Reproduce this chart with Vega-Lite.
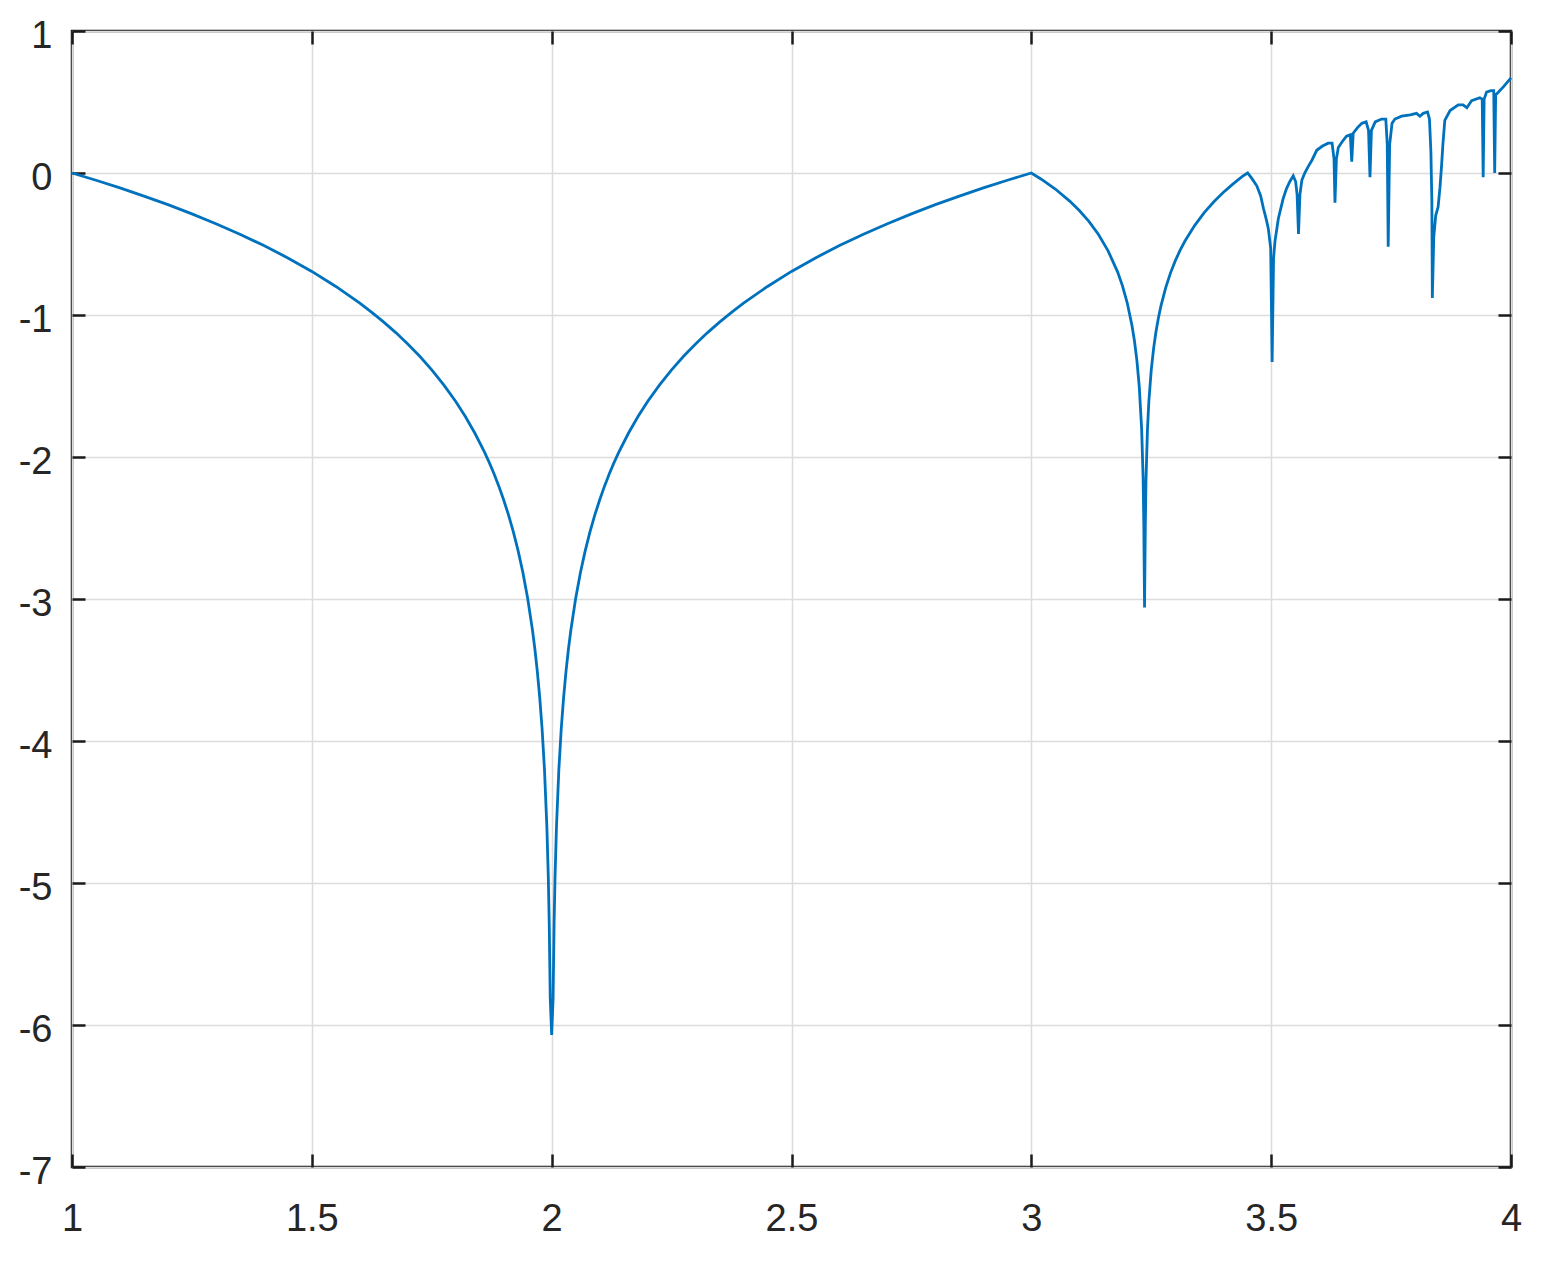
{
  "$schema": "https://vega.github.io/schema/vega-lite/v6.json",
  "width": 1439,
  "height": 1136,
  "autosize": {"type": "none"},
  "padding": {"left": 72, "top": 31, "right": 36, "bottom": 103},
  "background": "white",
  "config": {
    "view": {"stroke": "#1a1a1a", "strokeWidth": 2.5},
    "axis": {"labelFont": "Liberation Sans", "labelFontSize": 38, "labelColor": "#262626", "domain": false, "labelFlush": false, "labelOverlap": false, "tickColor": "#1a1a1a", "tickWidth": 2.5, "gridColor": "#dcdcdc", "gridWidth": 1.5, "title": null}
  },
  "data": {
    "values": [
      {"r": 1.0, "lyap": 0.0},
      {"r": 1.05, "lyap": -0.051},
      {"r": 1.1, "lyap": -0.105},
      {"r": 1.15, "lyap": -0.163},
      {"r": 1.2, "lyap": -0.223},
      {"r": 1.25, "lyap": -0.288},
      {"r": 1.3, "lyap": -0.357},
      {"r": 1.35, "lyap": -0.431},
      {"r": 1.4, "lyap": -0.511},
      {"r": 1.45, "lyap": -0.598},
      {"r": 1.5, "lyap": -0.693},
      {"r": 1.55, "lyap": -0.799},
      {"r": 1.6, "lyap": -0.916},
      {"r": 1.625, "lyap": -0.981},
      {"r": 1.65, "lyap": -1.05},
      {"r": 1.675, "lyap": -1.124},
      {"r": 1.7, "lyap": -1.204},
      {"r": 1.725, "lyap": -1.291},
      {"r": 1.75, "lyap": -1.386},
      {"r": 1.775, "lyap": -1.492},
      {"r": 1.8, "lyap": -1.609},
      {"r": 1.82, "lyap": -1.715},
      {"r": 1.84, "lyap": -1.833},
      {"r": 1.86, "lyap": -1.966},
      {"r": 1.87, "lyap": -2.04},
      {"r": 1.88, "lyap": -2.12},
      {"r": 1.89, "lyap": -2.207},
      {"r": 1.9, "lyap": -2.303},
      {"r": 1.91, "lyap": -2.408},
      {"r": 1.92, "lyap": -2.526},
      {"r": 1.93, "lyap": -2.659},
      {"r": 1.94, "lyap": -2.813},
      {"r": 1.95, "lyap": -2.996},
      {"r": 1.96, "lyap": -3.219},
      {"r": 1.965, "lyap": -3.352},
      {"r": 1.97, "lyap": -3.507},
      {"r": 1.975, "lyap": -3.689},
      {"r": 1.98, "lyap": -3.912},
      {"r": 1.985, "lyap": -4.2},
      {"r": 1.99, "lyap": -4.605},
      {"r": 1.993, "lyap": -4.962},
      {"r": 1.995, "lyap": -5.298},
      {"r": 1.997, "lyap": -5.809},
      {"r": 2.0, "lyap": -6.07},
      {"r": 2.003, "lyap": -5.809},
      {"r": 2.005, "lyap": -5.298},
      {"r": 2.007, "lyap": -4.962},
      {"r": 2.01, "lyap": -4.605},
      {"r": 2.015, "lyap": -4.2},
      {"r": 2.02, "lyap": -3.912},
      {"r": 2.025, "lyap": -3.689},
      {"r": 2.03, "lyap": -3.507},
      {"r": 2.035, "lyap": -3.352},
      {"r": 2.04, "lyap": -3.219},
      {"r": 2.05, "lyap": -2.996},
      {"r": 2.06, "lyap": -2.813},
      {"r": 2.07, "lyap": -2.659},
      {"r": 2.08, "lyap": -2.526},
      {"r": 2.09, "lyap": -2.408},
      {"r": 2.1, "lyap": -2.303},
      {"r": 2.11, "lyap": -2.207},
      {"r": 2.12, "lyap": -2.12},
      {"r": 2.13, "lyap": -2.04},
      {"r": 2.14, "lyap": -1.966},
      {"r": 2.16, "lyap": -1.833},
      {"r": 2.18, "lyap": -1.715},
      {"r": 2.2, "lyap": -1.609},
      {"r": 2.225, "lyap": -1.492},
      {"r": 2.25, "lyap": -1.386},
      {"r": 2.275, "lyap": -1.291},
      {"r": 2.3, "lyap": -1.204},
      {"r": 2.325, "lyap": -1.124},
      {"r": 2.35, "lyap": -1.05},
      {"r": 2.375, "lyap": -0.981},
      {"r": 2.4, "lyap": -0.916},
      {"r": 2.45, "lyap": -0.799},
      {"r": 2.5, "lyap": -0.693},
      {"r": 2.55, "lyap": -0.598},
      {"r": 2.6, "lyap": -0.511},
      {"r": 2.65, "lyap": -0.431},
      {"r": 2.7, "lyap": -0.357},
      {"r": 2.75, "lyap": -0.288},
      {"r": 2.8, "lyap": -0.223},
      {"r": 2.85, "lyap": -0.163},
      {"r": 2.9, "lyap": -0.105},
      {"r": 2.95, "lyap": -0.051},
      {"r": 3.0, "lyap": 0.0},
      {"r": 3.02, "lyap": -0.042},
      {"r": 3.05, "lyap": -0.113},
      {"r": 3.08, "lyap": -0.198},
      {"r": 3.1, "lyap": -0.264},
      {"r": 3.12, "lyap": -0.341},
      {"r": 3.14, "lyap": -0.433},
      {"r": 3.16, "lyap": -0.548},
      {"r": 3.18, "lyap": -0.698},
      {"r": 3.19, "lyap": -0.795},
      {"r": 3.2, "lyap": -0.916},
      {"r": 3.21, "lyap": -1.078},
      {"r": 3.215, "lyap": -1.183},
      {"r": 3.22, "lyap": -1.318},
      {"r": 3.225, "lyap": -1.504},
      {"r": 3.23, "lyap": -1.804},
      {"r": 3.233, "lyap": -2.145},
      {"r": 3.2345, "lyap": -2.48},
      {"r": 3.236, "lyap": -3.06},
      {"r": 3.2375, "lyap": -2.525},
      {"r": 3.239, "lyap": -2.167},
      {"r": 3.242, "lyap": -1.814},
      {"r": 3.245, "lyap": -1.609},
      {"r": 3.25, "lyap": -1.386},
      {"r": 3.255, "lyap": -1.233},
      {"r": 3.26, "lyap": -1.115},
      {"r": 3.265, "lyap": -1.019},
      {"r": 3.27, "lyap": -0.939},
      {"r": 3.28, "lyap": -0.809},
      {"r": 3.29, "lyap": -0.705},
      {"r": 3.3, "lyap": -0.619},
      {"r": 3.31, "lyap": -0.545},
      {"r": 3.32, "lyap": -0.481},
      {"r": 3.34, "lyap": -0.372},
      {"r": 3.36, "lyap": -0.281},
      {"r": 3.38, "lyap": -0.204},
      {"r": 3.4, "lyap": -0.137},
      {"r": 3.42, "lyap": -0.078},
      {"r": 3.44, "lyap": -0.024},
      {"r": 3.451, "lyap": 0.0},
      {"r": 3.46, "lyap": -0.04},
      {"r": 3.47, "lyap": -0.09},
      {"r": 3.478, "lyap": -0.16},
      {"r": 3.484, "lyap": -0.25},
      {"r": 3.49, "lyap": -0.33},
      {"r": 3.494, "lyap": -0.39},
      {"r": 3.499, "lyap": -0.53},
      {"r": 3.502, "lyap": -1.33},
      {"r": 3.505, "lyap": -0.6},
      {"r": 3.508, "lyap": -0.48},
      {"r": 3.515, "lyap": -0.32},
      {"r": 3.525, "lyap": -0.18},
      {"r": 3.532, "lyap": -0.11},
      {"r": 3.539, "lyap": -0.06},
      {"r": 3.546, "lyap": -0.02},
      {"r": 3.551, "lyap": -0.06},
      {"r": 3.554, "lyap": -0.15},
      {"r": 3.557, "lyap": -0.43},
      {"r": 3.56, "lyap": -0.15},
      {"r": 3.564, "lyap": -0.05},
      {"r": 3.57, "lyap": 0.0},
      {"r": 3.578, "lyap": 0.05},
      {"r": 3.585, "lyap": 0.09},
      {"r": 3.595, "lyap": 0.16},
      {"r": 3.607, "lyap": 0.19},
      {"r": 3.619, "lyap": 0.21},
      {"r": 3.627, "lyap": 0.21},
      {"r": 3.631, "lyap": 0.1},
      {"r": 3.633, "lyap": -0.21},
      {"r": 3.636, "lyap": 0.1},
      {"r": 3.64, "lyap": 0.18},
      {"r": 3.648, "lyap": 0.22},
      {"r": 3.657, "lyap": 0.26},
      {"r": 3.665, "lyap": 0.27},
      {"r": 3.668, "lyap": 0.08},
      {"r": 3.671, "lyap": 0.28},
      {"r": 3.68, "lyap": 0.32},
      {"r": 3.689, "lyap": 0.35},
      {"r": 3.698, "lyap": 0.36},
      {"r": 3.703, "lyap": 0.3},
      {"r": 3.706, "lyap": -0.03},
      {"r": 3.709, "lyap": 0.3},
      {"r": 3.717, "lyap": 0.36},
      {"r": 3.73, "lyap": 0.38},
      {"r": 3.739, "lyap": 0.38},
      {"r": 3.742, "lyap": 0.2},
      {"r": 3.744, "lyap": -0.52},
      {"r": 3.747, "lyap": 0.2},
      {"r": 3.752, "lyap": 0.35},
      {"r": 3.758, "lyap": 0.38},
      {"r": 3.772, "lyap": 0.4},
      {"r": 3.79, "lyap": 0.41},
      {"r": 3.803, "lyap": 0.42},
      {"r": 3.81, "lyap": 0.4},
      {"r": 3.817, "lyap": 0.42},
      {"r": 3.826, "lyap": 0.43},
      {"r": 3.83, "lyap": 0.38},
      {"r": 3.833, "lyap": 0.15},
      {"r": 3.835, "lyap": -0.2},
      {"r": 3.836, "lyap": -0.88},
      {"r": 3.839, "lyap": -0.45},
      {"r": 3.843, "lyap": -0.3},
      {"r": 3.848, "lyap": -0.24},
      {"r": 3.852, "lyap": -0.1},
      {"r": 3.855, "lyap": 0.04},
      {"r": 3.858, "lyap": 0.2},
      {"r": 3.862, "lyap": 0.37},
      {"r": 3.873, "lyap": 0.44},
      {"r": 3.89, "lyap": 0.48},
      {"r": 3.9, "lyap": 0.48},
      {"r": 3.908, "lyap": 0.46},
      {"r": 3.918, "lyap": 0.51},
      {"r": 3.935, "lyap": 0.53},
      {"r": 3.94, "lyap": 0.52},
      {"r": 3.942, "lyap": -0.03},
      {"r": 3.944, "lyap": 0.52},
      {"r": 3.949, "lyap": 0.57},
      {"r": 3.958, "lyap": 0.58},
      {"r": 3.964, "lyap": 0.58},
      {"r": 3.966, "lyap": 0.0},
      {"r": 3.968, "lyap": 0.55},
      {"r": 3.974, "lyap": 0.57},
      {"r": 3.985, "lyap": 0.61},
      {"r": 4.0, "lyap": 0.67}
    ]
  },
  "layer": [
    {
      "mark": {"type": "line", "color": "#0072BD", "strokeWidth": 2.8, "opacity": 0},
      "encoding": {
        "x": {"field": "r", "type": "quantitative", "scale": {"domain": [1, 4], "nice": false, "zero": false},
          "axis": {"orient": "top", "values": [1, 1.5, 2, 2.5, 3, 3.5, 4], "labels": false, "grid": false, "tickSize": -13}},
        "y": {"field": "lyap", "type": "quantitative", "scale": {"domain": [-7, 1], "nice": false, "zero": false},
          "axis": {"orient": "right", "values": [-7, -6, -5, -4, -3, -2, -1, 0, 1], "labels": false, "grid": false, "tickSize": -13}}
      }
    },
    {
      "mark": {"type": "line", "color": "#0072BD", "strokeWidth": 2.8},
      "encoding": {
        "x": {"field": "r", "type": "quantitative", "scale": {"domain": [1, 4], "nice": false, "zero": false},
          "axis": {"orient": "bottom", "values": [1, 1.5, 2, 2.5, 3, 3.5, 4], "grid": true, "tickSize": -13, "labelPadding": 46, "labelExpr": "'' + datum.value"}},
        "y": {"field": "lyap", "type": "quantitative", "scale": {"domain": [-7, 1], "nice": false, "zero": false},
          "axis": {"orient": "left", "values": [-7, -6, -5, -4, -3, -2, -1, 0, 1], "grid": true, "tickSize": -13, "labelPadding": 33, "labelOffset": 5, "labelExpr": "'' + datum.value"}}
      }
    }
  ],
  "resolve": {"axis": {"x": "independent", "y": "independent"}}
}
